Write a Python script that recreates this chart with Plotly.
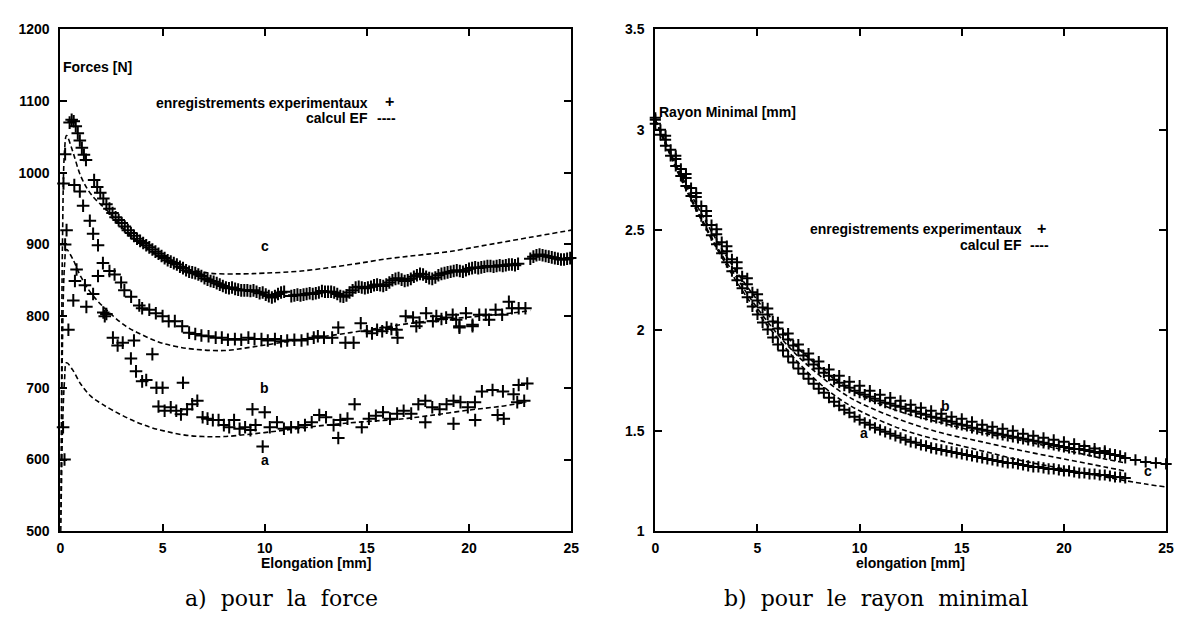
import plotly.graph_objects as go

W, H = 1183, 622

# ---------------- Left panel: forces ----------------
# EF (finite element) curves
ef_a_x = [0, 0.05, 0.1, 0.2, 0.3, 0.6, 1.0, 1.5, 2, 2.6, 3.5, 4.4, 5.2, 6.1, 7, 8, 9.5, 11, 13, 15, 16.5, 18, 20, 21.5, 22.8]
ef_a_y = [500, 560, 640, 710, 735, 725, 705, 688, 678, 668, 655, 645, 639, 634, 632, 632, 636, 641, 648, 653, 656, 661, 669, 674, 680]
ef_b_x = [0, 0.05, 0.1, 0.2, 0.3, 0.6, 1.0, 1.5, 2.1, 3.2, 4, 4.8, 5.6, 6.5, 8, 9.4, 11, 12.5, 14.2, 15.5, 17.4, 19, 20.5, 22, 23]
ef_b_y = [500, 620, 760, 870, 893, 880, 855, 832, 813, 786, 774, 764, 758, 754, 752, 757, 764, 770, 777, 783, 791, 796, 800, 804, 808]
ef_c_x = [0, 0.05, 0.1, 0.2, 0.3, 0.6, 1.0, 1.5, 2.4, 3.4, 4.5, 5.5, 6.1, 7.3, 8.9, 10, 11.8, 14.2, 16, 17.5, 19, 21, 23, 25]
ef_c_y = [500, 700, 900, 1030, 1052, 1030, 995, 970, 944, 913, 890, 875, 867, 860, 859, 860, 863, 872, 880, 885, 890, 900, 910, 920]

# experimental records
exp_c_x = [0.15, 0.23, 0.45, 0.55, 0.65, 0.75, 0.85, 0.95, 1.05, 1.15, 1.25, 1.65, 1.8, 1.95, 2.1, 2.25, 2.4, 2.55, 2.7,
           2.85, 3.0, 3.15, 3.3, 3.45, 3.6, 3.75, 3.9, 4.05, 4.2, 4.35, 4.5, 4.65, 4.8, 4.95, 5.1, 5.25, 5.4, 5.55,
           5.7, 5.85, 6.0, 6.15, 6.3, 6.45, 6.6, 6.75, 6.9, 7.05, 7.2, 7.35, 7.5, 7.65, 7.8, 7.95, 8.1, 8.25, 8.4,
           8.55, 8.7, 8.85, 9.0, 9.15, 9.3, 9.45, 9.6, 9.75, 9.9, 10.05, 10.2, 10.35, 10.5, 10.65, 10.8, 10.95,
           11.3, 11.45, 11.6, 11.75, 11.9, 12.05, 12.2, 12.35, 12.5, 12.65, 12.8, 12.95, 13.1, 13.25, 13.4, 13.55,
           13.7, 13.85, 14.0, 14.15, 14.3, 14.45, 14.6, 14.75, 14.9, 15.05, 15.2, 15.35, 15.5, 15.65, 15.8, 15.95,
           16.1, 16.25, 16.4, 16.55, 16.7, 16.85, 17.0, 17.15, 17.3, 17.45, 17.6, 17.75, 17.9, 18.05, 18.2, 18.35,
           18.5, 18.65, 18.8, 18.95, 19.1, 19.25, 19.4, 19.55, 19.7, 19.85, 20.0, 20.15, 20.3, 20.45, 20.6, 20.75,
           20.9, 21.05, 21.2, 21.35, 21.5, 21.65, 21.8, 21.95, 22.1, 22.25, 22.4, 23.0, 23.15, 23.3, 23.45, 23.6,
           23.75, 23.9, 24.05, 24.2, 24.35, 24.5, 24.65, 24.8, 24.95]
exp_c_y = [985, 1026, 1070, 1074, 1072, 1065, 1055, 1045, 1035, 1025, 1018, 990, 980, 972, 964, 956, 950, 944, 938,
           934, 930, 925, 920, 916, 912, 908, 905, 902, 899, 896, 893, 890, 887, 884, 881, 878, 876, 874,
           872, 869, 867, 864, 862, 861, 860, 858, 856, 853, 851, 849, 848, 846, 844, 842, 840, 839, 840,
           838, 837, 836, 836, 836, 835, 836, 834, 832, 833, 830, 828, 826, 828, 831, 833, 834,
           828, 829, 830, 829, 830, 831, 832, 831, 832, 833, 835, 834, 834, 834, 833, 831,
           828, 827, 829, 833, 836, 840, 841, 840, 839, 840, 841, 843, 844, 843, 842, 844,
           847, 850, 852, 853, 851, 849, 850, 852, 855, 857, 859, 858, 855, 853, 852, 854,
           857, 859, 860, 861, 862, 863, 864, 863, 862, 864, 866, 867, 868, 867, 868, 869,
           870, 870, 869, 870, 871, 870, 871, 872, 872, 871, 873, 880, 883, 885, 886, 885,
           884, 883, 882, 881, 880, 879, 879, 880, 881]

exp_b_x = [0.23, 0.3, 0.63, 0.71, 0.79, 1.2, 1.27, 1.6, 2.1, 2.17, 2.25, 2.4, 2.65, 2.97, 3.13, 3.46, 3.86, 4.0, 4.35,
           4.67, 5.0, 5.3, 5.6, 5.96, 6.3, 6.6, 6.9, 7.25, 7.6, 7.9, 8.2, 8.54, 8.85, 9.2, 9.5, 9.84, 10.15, 10.5,
           10.8, 11.1, 11.45, 11.8, 12.1, 12.4, 12.6, 12.9, 13.3, 13.6, 13.95, 14.35, 14.7, 15.0, 15.25, 15.5,
           15.75, 15.97, 16.2, 16.45, 16.5, 16.9, 17.26, 17.42, 17.58, 17.9, 18.23, 18.4, 18.65, 18.88, 19.2,
           19.37, 19.53, 19.53, 19.85, 20.17, 20.17, 20.5, 20.82, 20.98, 21.3, 21.62, 21.95, 22.1, 22.43, 22.76]
exp_b_y = [900, 920, 822, 849, 865, 843, 813, 831, 805, 800, 803, 863, 858, 847, 836, 827, 815, 811, 809,
           804, 800, 793, 793, 786, 777, 775, 773, 772, 770, 770, 767, 768, 767, 770, 768, 768, 766, 768,
           765, 766, 767, 766, 768, 770, 772, 770, 770, 784, 763, 763, 790, 779, 776, 781,
           779, 784, 782, 781, 770, 800, 798, 786, 791, 804, 793, 800, 796, 798, 802,
           795, 786, 784, 804, 788, 786, 802, 802, 795, 809, 802, 820, 811, 811, 811]

exp_a_x = [0.13, 0.2, 0.39, 0.68, 0.95, 1.11, 1.44, 1.6, 1.84, 2.08, 1.84, 2.57, 2.8, 3.05, 3.6, 3.45, 3.7, 4.0, 4.2,
           4.5, 4.7, 5.0, 6.0, 4.8, 5.1, 5.4, 5.67, 5.9, 6.2, 6.45, 6.7, 6.96, 7.2, 7.46, 7.74, 8.0, 8.26, 8.5,
           8.77, 9.04, 9.3, 9.55, 9.4, 10.0, 9.9, 10.25, 10.6, 10.94, 11.29, 11.64, 11.97, 12.3, 12.67, 13.0,
           13.37, 13.7, 14.05, 13.6, 14.4, 14.75, 15.1, 15.44, 15.79, 16.13, 16.48, 16.8, 17.17, 17.52, 17.86,
           18.2, 18.56, 18.9, 19.24, 19.58, 19.94, 20.29, 17.86, 19.24, 20.3, 21.4, 21.7, 20.63, 21.15, 21.66,
           22.18, 22.43, 22.85, 22.36, 22.7]
exp_a_y = [645, 600, 781, 983, 974, 954, 933, 915, 899, 874, 856, 770, 759, 763, 766, 741, 723, 709, 711,
           747, 700, 700, 707, 674, 668, 673, 668, 663, 670, 677, 682, 659, 657, 655, 655, 648, 645, 655,
           643, 645, 641, 648, 670, 666, 618, 645, 652, 643, 645, 645, 648, 652, 662, 659,
           648, 655, 657, 630, 677, 645, 657, 661, 666, 657, 664, 668, 664, 677, 682,
           673, 670, 677, 682, 680, 673, 680, 652, 650, 655, 662, 657, 695, 697, 695,
           691, 704, 706, 680, 682]

# ---------------- Right panel: minimal radius ----------------
r_a_x = [i * 0.25 for i in range(93)]
r_a_y = [3.03, 2.975, 2.92, 2.87, 2.82, 2.77, 2.72, 2.67, 2.62, 2.57, 2.525, 2.475, 2.43, 2.385, 2.34, 2.295,
         2.25, 2.21, 2.165, 2.12, 2.08, 2.04, 2.005, 1.965, 1.93, 1.90, 1.87, 1.84, 1.81, 1.785, 1.76, 1.735,
         1.71, 1.69, 1.665, 1.645, 1.625, 1.605, 1.59, 1.57, 1.555, 1.54, 1.53, 1.515, 1.505, 1.495, 1.485,
         1.475, 1.465, 1.455, 1.445, 1.44, 1.43, 1.425, 1.415, 1.41, 1.405, 1.40, 1.395, 1.39, 1.385, 1.38,
         1.375, 1.37, 1.365, 1.36, 1.355, 1.35, 1.345, 1.34, 1.34, 1.335, 1.33, 1.325, 1.32, 1.32, 1.315,
         1.31, 1.31, 1.305, 1.30, 1.30, 1.295, 1.29, 1.29, 1.285, 1.285, 1.28, 1.28, 1.275, 1.27, 1.27, 1.265]
r_b_x = [i * 0.25 for i in range(92)]
r_b_y = [3.05, 3.00, 2.95, 2.90, 2.855, 2.805, 2.76, 2.71, 2.665, 2.62, 2.57, 2.525, 2.48, 2.44, 2.395, 2.355,
         2.31, 2.27, 2.23, 2.19, 2.15, 2.115, 2.08, 2.045, 2.01, 1.98, 1.955, 1.925, 1.90, 1.875, 1.855, 1.83,
         1.81, 1.79, 1.775, 1.755, 1.74, 1.725, 1.715, 1.70, 1.69, 1.68, 1.67, 1.66, 1.65, 1.64, 1.635, 1.625,
         1.62, 1.61, 1.60, 1.595, 1.585, 1.58, 1.57, 1.565, 1.56, 1.55, 1.545, 1.535, 1.53, 1.525, 1.515, 1.51,
         1.505, 1.50, 1.49, 1.485, 1.48, 1.475, 1.47, 1.465, 1.46, 1.455, 1.45, 1.445, 1.44, 1.435, 1.43,
         1.425, 1.42, 1.415, 1.41, 1.41, 1.405, 1.40, 1.395, 1.39, 1.39, 1.385, 1.38, 1.375]
r_c_x = [i * 0.5 for i in range(51)]
r_c_y = [3.06, 2.97, 2.87, 2.78, 2.685, 2.595, 2.505, 2.42, 2.34, 2.26, 2.18, 2.11, 2.04, 1.985, 1.93, 1.885,
         1.845, 1.805, 1.775, 1.745, 1.725, 1.70, 1.68, 1.665, 1.65, 1.63, 1.615, 1.60, 1.585, 1.57, 1.56,
         1.545, 1.53, 1.52, 1.51, 1.50, 1.485, 1.475, 1.465, 1.455, 1.445, 1.435, 1.425, 1.412, 1.40, 1.38,
         1.365, 1.355, 1.345, 1.34, 1.335]

ef_r1_x = [0, 1, 2, 3, 4, 5, 6, 7, 8, 9, 10, 12, 14, 16, 18, 20, 22, 23]
ef_r1_y = [3.05, 2.83, 2.63, 2.45, 2.29, 2.15, 2.02, 1.91, 1.82, 1.74, 1.68, 1.595, 1.54, 1.49, 1.45, 1.405, 1.36, 1.34]
ef_r2_x = [0, 1, 2, 3, 4, 5, 6, 7, 8, 9, 10, 12, 14, 16, 18, 20, 22, 23]
ef_r2_y = [3.05, 2.82, 2.61, 2.42, 2.26, 2.11, 1.98, 1.87, 1.78, 1.70, 1.64, 1.555, 1.49, 1.445, 1.40, 1.36, 1.32, 1.30]
ef_r3_x = [0, 1, 2, 3, 4, 5, 6, 7, 8, 9, 10, 12, 14, 16, 18, 20, 22, 24, 25]
ef_r3_y = [3.05, 2.81, 2.60, 2.41, 2.24, 2.09, 1.96, 1.84, 1.74, 1.66, 1.60, 1.51, 1.45, 1.40, 1.35, 1.31, 1.27, 1.235, 1.22]

x_ticks = [0, 5, 10, 15, 20, 25]
force_ticks = [500, 600, 700, 800, 900, 1000, 1100, 1200]
radius_ticks = [1, 1.5, 2, 2.5, 3, 3.5]
radius_tick_text = ["1", "1.5", "2", "2.5", "3", "3.5"]

SANS = "Liberation Sans, Arial, sans-serif"
SERIF = "DejaVu Serif, serif"

fig = go.Figure()

dash_line = dict(color="black", width=1.6, dash="5px,3px")
cross = dict(symbol="cross-thin", size=9, line=dict(color="black", width=2), color="black")
cross_r = dict(symbol="cross-thin", size=8, line=dict(color="black", width=2), color="black")

for xs, ys in [(ef_a_x, ef_a_y), (ef_b_x, ef_b_y), (ef_c_x, ef_c_y)]:
    fig.add_trace(go.Scatter(x=xs, y=ys, mode="lines", line=dash_line, xaxis="x", yaxis="y",
                             line_shape="spline", showlegend=False, hoverinfo="skip"))
for xs, ys in [(exp_a_x, exp_a_y), (exp_b_x, exp_b_y), (exp_c_x, exp_c_y)]:
    fig.add_trace(go.Scatter(x=xs, y=ys, mode="markers", marker=cross, xaxis="x", yaxis="y",
                             showlegend=False, cliponaxis=False))

for xs, ys in [(r_a_x, r_a_y), (r_b_x, r_b_y), (r_c_x, r_c_y)]:
    fig.add_trace(go.Scatter(x=xs, y=ys, mode="markers", marker=cross_r, xaxis="x2", yaxis="y2",
                             showlegend=False, cliponaxis=False))
for xs, ys in [(ef_r1_x, ef_r1_y), (ef_r2_x, ef_r2_y), (ef_r3_x, ef_r3_y)]:
    fig.add_trace(go.Scatter(x=xs, y=ys, mode="lines", line=dash_line, xaxis="x2", yaxis="y2",
                             line_shape="spline", showlegend=False, hoverinfo="skip"))


def px(x):
    return x / W


def py(y):
    return 1 - y / H


axis_common = dict(showline=True, linecolor="black", linewidth=2, mirror="ticks", ticks="inside",
                   ticklen=7, tickwidth=1.5, tickcolor="black", showgrid=False, zeroline=False,
                   tickfont=dict(family=SANS, size=14, color="black", weight="bold"))

ydom = [py(537), py(22)]
fig.update_layout(
    width=W, height=H,
    margin=dict(l=0, r=0, t=0, b=0),
    paper_bgcolor="white", plot_bgcolor="white",
    showlegend=False,
    xaxis=dict(domain=[px(57), px(573)], range=[0, 25], anchor="y", tickvals=x_ticks,
               ticklabelstandoff=3, **axis_common),
    yaxis=dict(domain=ydom, range=[500, 1200], anchor="x", tickvals=force_ticks,
               ticklabelstandoff=6, **axis_common),
    xaxis2=dict(domain=[px(658), px(1174)], range=[0, 25], anchor="y2", tickvals=x_ticks,
                ticklabelstandoff=3, **axis_common),
    yaxis2=dict(domain=ydom, range=[1, 3.5], anchor="x2", tickvals=radius_ticks,
                ticktext=radius_tick_text, ticklabelstandoff=6, **axis_common),
)

ann = []
f14 = dict(family=SANS, size=14, color="black", weight="bold")
fsym = dict(family=SANS, size=16, color="black", weight="bold")


def note(text, x, y, xanchor="center", font=f14, xref="paper", yref="paper"):
    ann.append(dict(text=text, x=x, y=y, xref=xref, yref=yref, xanchor=xanchor, yanchor="middle",
                    showarrow=False, font=font, borderpad=0))


# left panel texts
note("Forces [N]", 0.1, 1148, "left", xref="x", yref="y")
note("enregistrements experimentaux", px(369), py(97), "right")
note("+", px(389), py(96), "center", fsym)
note("calcul EF", px(369), py(113), "right")
note("----", px(376), py(113), "left")
note("c", 10, 898, xref="x", yref="y")
note("b", 10, 700, xref="x", yref="y")
note("a", 10, 599, xref="x", yref="y")
note("Elongation [mm]", px(315), py(570))
note("a)  pour  la  force", px(280), py(606), "center", dict(family=SERIF, size=22, color="black"))

# right panel texts
note("Rayon Minimal [mm]", 0.15, 3.09, "left", xref="x2", yref="y2")
note("enregistrements experimentaux", px(1029), py(227), "right")
note("+", px(1048), py(226), "center", fsym)
note("calcul EF", px(1029), py(243), "right")
note("----", px(1036), py(243), "left")
note("b", 14.2, 1.625, xref="x2", yref="y2")
note("a", 10.2, 1.49, xref="x2", yref="y2")
note("c", 24.1, 1.30, xref="x2", yref="y2")
note("elongation [mm]", px(916), py(570))
note("b)  pour  le  rayon  minimal", px(881), py(606), "center", dict(family=SERIF, size=22, color="black"))

fig.update_layout(annotations=ann)

fig.write_html("out.html")
